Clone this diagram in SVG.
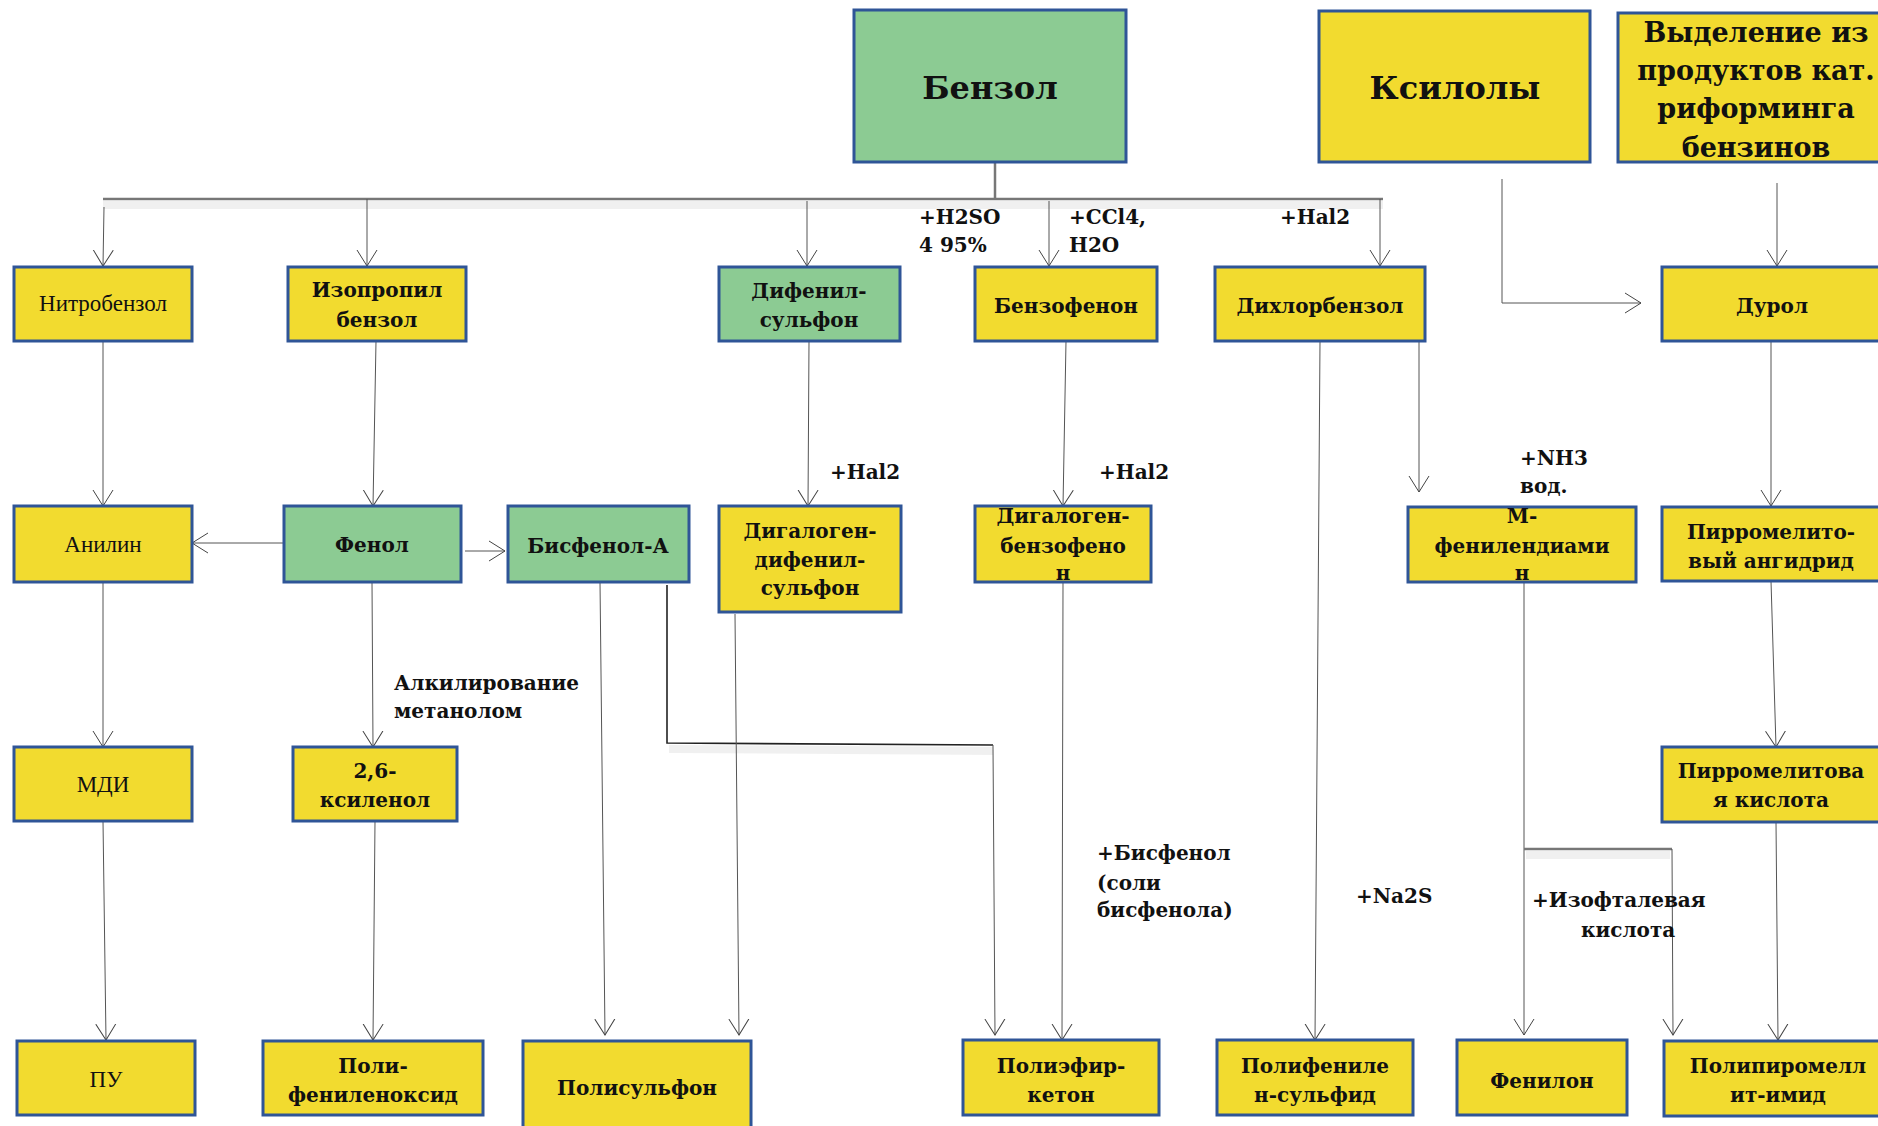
<svg xmlns="http://www.w3.org/2000/svg" width="1878" height="1126" viewBox="0 0 1878 1126">
<defs>
<style>
.y{fill:#F2DB2F;stroke:#2F5597;stroke-width:3}
.g{fill:#8CCB93;stroke:#2F5597;stroke-width:3}
.t{font-family:"DejaVu Serif","Liberation Serif",serif;font-weight:bold;font-size:20px;fill:#111;text-anchor:middle}
.r{font-family:"Liberation Serif","DejaVu Serif",serif;font-size:23px;fill:#111;text-anchor:middle}
.l{font-family:"DejaVu Serif","Liberation Serif",serif;font-weight:bold;font-size:20px;fill:#111}
.big{font-size:32px}
.c{fill:none;stroke:#555;stroke-width:1}
.bus{fill:none;stroke:#777;stroke-width:2.5}
.blk{fill:none;stroke:#222;stroke-width:1.6}
.shd{fill:none;stroke:#000;stroke-opacity:0.06;stroke-width:8}
</style>
<marker id="a" markerUnits="userSpaceOnUse" viewBox="0 0 17 22" markerWidth="17" markerHeight="22" refX="16" refY="11" orient="auto">
<path d="M0,1 L16,11 L0,21" fill="none" stroke="#444" stroke-width="1"/>
</marker>
</defs>

<g id="connectors">
<line class="shd" x1="103" y1="205" x2="1383" y2="205"/>
<line class="bus" x1="995" y1="162" x2="995" y2="199"/>
<line class="bus" x1="103" y1="199" x2="1383" y2="199"/>
<line class="c" x1="104" y1="207" x2="103" y2="266" marker-end="url(#a)"/>
<line class="c" x1="367" y1="199" x2="367" y2="266" marker-end="url(#a)"/>
<line class="c" x1="807" y1="201" x2="807" y2="266" marker-end="url(#a)"/>
<line class="c" x1="1049" y1="201" x2="1049" y2="266" marker-end="url(#a)"/>
<line class="c" x1="1380" y1="199" x2="1380" y2="266" marker-end="url(#a)"/>
<polyline class="c" points="1502,179 1502,303 1641,303" stroke-width="1.5" marker-end="url(#a)"/>
<line class="c" x1="1777" y1="183" x2="1777" y2="266" marker-end="url(#a)"/>
<line class="c" x1="103" y1="341" x2="103" y2="506" marker-end="url(#a)"/>
<line class="c" x1="376" y1="341" x2="373" y2="506" marker-end="url(#a)"/>
<line class="c" x1="809" y1="341" x2="808" y2="506" marker-end="url(#a)"/>
<line class="c" x1="1066" y1="341" x2="1063" y2="506" marker-end="url(#a)"/>
<line class="c" x1="1320" y1="341" x2="1315" y2="1040" marker-end="url(#a)"/>
<line class="c" x1="1419" y1="341" x2="1419" y2="492" marker-end="url(#a)"/>
<line class="c" x1="1771" y1="341" x2="1771" y2="506" marker-end="url(#a)"/>
<line class="c" x1="284" y1="543" x2="192" y2="543" stroke-width="1.5" marker-end="url(#a)"/>
<line class="c" x1="465" y1="551" x2="505" y2="551" stroke-width="1.5" marker-end="url(#a)"/>
<line class="c" x1="103" y1="582" x2="103" y2="747" marker-end="url(#a)"/>
<line class="c" x1="372" y1="582" x2="373" y2="747" marker-end="url(#a)"/>
<line class="c" x1="600" y1="582" x2="605" y2="1035" marker-end="url(#a)"/>
<line class="shd" x1="669" y1="749" x2="993" y2="751"/>
<polyline class="blk" points="667,585 667,743 993,745"/>
<line class="c" x1="993" y1="745" x2="995" y2="1035" marker-end="url(#a)"/>
<line class="c" x1="735" y1="614" x2="739" y2="1035" marker-end="url(#a)"/>
<line class="c" x1="1771" y1="581" x2="1776" y2="747" marker-end="url(#a)"/>
<line class="c" x1="1524" y1="582" x2="1524" y2="1035" marker-end="url(#a)"/>
<line class="shd" x1="1526" y1="855" x2="1670" y2="855"/>
<line class="bus" x1="1524" y1="849" x2="1672" y2="849" stroke-width="2"/>
<line class="c" x1="1672" y1="849" x2="1673" y2="1035" stroke="#888" stroke-width="1.5" marker-end="url(#a)"/>
<line class="c" x1="103" y1="821" x2="106" y2="1040" marker-end="url(#a)"/>
<line class="c" x1="375" y1="821" x2="373" y2="1040" marker-end="url(#a)"/>
<line class="c" x1="1063" y1="582" x2="1062" y2="1040" marker-end="url(#a)"/>
<line class="c" x1="1776" y1="822" x2="1778" y2="1040" marker-end="url(#a)"/>
</g>

<g id="labels">
<text class="l" x="919" y="224">+H2SO</text>
<text class="l" x="919" y="252">4 95%</text>
<text class="l" x="1069" y="224">+CCl4,</text>
<text class="l" x="1069" y="252">H2O</text>
<text class="l" x="1280" y="224">+Hal2</text>
<text class="l" x="830" y="479">+Hal2</text>
<text class="l" x="1099" y="479">+Hal2</text>
<text class="l" x="1520" y="465">+NH3</text>
<text class="l" x="1520" y="493">вод.</text>
<text class="l" x="394" y="690">Алкилирование</text>
<text class="l" x="394" y="718">метанолом</text>
<text class="l" x="1097" y="860">+Бисфенол</text>
<text class="l" x="1097" y="890">(соли</text>
<text class="l" x="1097" y="917">бисфенола)</text>
<text class="l" x="1356" y="903">+Na2S</text>
<text class="l" x="1532" y="907">+Изофталевая</text>
<text class="l" x="1581" y="937">кислота</text>
</g>

<g id="benzol"><rect class="g" x="854" y="10" width="272" height="152"/><text class="t big" x="990" y="99">Бензол</text></g>
<g id="ksiloly"><rect class="y" x="1319" y="11" width="271" height="151"/><text class="t big" x="1455" y="99">Ксилолы</text></g>
<g id="vydelenie"><rect class="y" x="1618" y="13" width="276" height="149"/>
<text class="t" style="font-size:27px" x="1756" y="42">Выделение из</text>
<text class="t" style="font-size:27px" x="1756" y="80">продуктов кат.</text>
<text class="t" style="font-size:27px" x="1756" y="118">риформинга</text>
<text class="t" style="font-size:27px" x="1756" y="157">бензинов</text></g>

<g id="nitrobenzol"><rect class="y" x="14" y="267" width="178" height="74"/><text class="r" x="103" y="311">Нитробензол</text></g>
<g id="izopropilbenzol"><rect class="y" x="288" y="267" width="178" height="74"/><text class="t" x="377" y="297">Изопропил</text><text class="t" x="377" y="327">бензол</text></g>
<g id="difenilsulfon"><rect class="g" x="719" y="267" width="181" height="74"/><text class="t" x="809" y="298">Дифенил-</text><text class="t" x="809" y="327">сульфон</text></g>
<g id="benzofenon"><rect class="y" x="975" y="267" width="182" height="74"/><text class="t" x="1066" y="313">Бензофенон</text></g>
<g id="dihlorbenzol"><rect class="y" x="1215" y="267" width="210" height="74"/><text class="t" x="1320" y="313">Дихлорбензол</text></g>
<g id="durol"><rect class="y" x="1662" y="267" width="230" height="74"/><text class="t" x="1772" y="313">Дурол</text></g>

<g id="anilin"><rect class="y" x="14" y="506" width="178" height="76"/><text class="r" x="103" y="552">Анилин</text></g>
<g id="fenol"><rect class="g" x="284" y="506" width="177" height="76"/><text class="t" x="372" y="552">Фенол</text></g>
<g id="bisfenol"><rect class="g" x="508" y="506" width="181" height="76"/><text class="t" x="598" y="553">Бисфенол-А</text></g>
<g id="digalogendifenilsulfon"><rect class="y" x="719" y="506" width="182" height="106"/><text class="t" x="810" y="538">Дигалоген-</text><text class="t" x="810" y="567">дифенил-</text><text class="t" x="810" y="595">сульфон</text></g>
<g id="digalogenbenzofenon"><rect class="y" x="975" y="506" width="176" height="76"/><text class="t" x="1063" y="523">Дигалоген-</text><text class="t" x="1063" y="553">бензофено</text><text class="t" x="1063" y="580">н</text></g>
<g id="mfenilendiamin"><rect class="y" x="1408" y="507" width="228" height="75"/><text class="t" x="1522" y="523">М-</text><text class="t" x="1522" y="553">фенилендиами</text><text class="t" x="1522" y="580">н</text></g>
<g id="pirromelitangidrid"><rect class="y" x="1662" y="507" width="230" height="74"/><text class="t" x="1771" y="539">Пирромелито-</text><text class="t" x="1771" y="568">вый ангидрид</text></g>

<g id="mdi"><rect class="y" x="14" y="747" width="178" height="74"/><text class="r" x="103" y="792">МДИ</text></g>
<g id="ksilenol"><rect class="y" x="293" y="747" width="164" height="74"/><text class="t" x="375" y="778">2,6-</text><text class="t" x="375" y="807">ксиленол</text></g>
<g id="pirromelitkislota"><rect class="y" x="1662" y="747" width="230" height="75"/><text class="t" x="1771" y="778">Пирромелитова</text><text class="t" x="1771" y="807">я кислота</text></g>

<g id="pu"><rect class="y" x="17" y="1041" width="178" height="74"/><text class="r" x="106" y="1087">ПУ</text></g>
<g id="polifenilenoksid"><rect class="y" x="263" y="1041" width="220" height="74"/><text class="t" x="373" y="1073">Поли-</text><text class="t" x="373" y="1102">фениленоксид</text></g>
<g id="polisulfon"><rect class="y" x="523" y="1041" width="228" height="100"/><text class="t" x="637" y="1095">Полисульфон</text></g>
<g id="poliefirketon"><rect class="y" x="963" y="1040" width="196" height="75"/><text class="t" x="1061" y="1073">Полиэфир-</text><text class="t" x="1061" y="1102">кетон</text></g>
<g id="polifenilensulfid"><rect class="y" x="1217" y="1040" width="196" height="75"/><text class="t" x="1315" y="1073">Полифениле</text><text class="t" x="1315" y="1102">н-сульфид</text></g>
<g id="fenilon"><rect class="y" x="1457" y="1040" width="170" height="75"/><text class="t" x="1542" y="1088">Фенилон</text></g>
<g id="polipiromellitimid"><rect class="y" x="1664" y="1041" width="228" height="75"/><text class="t" x="1778" y="1073">Полипиромелл</text><text class="t" x="1778" y="1102">ит-имид</text></g>
</svg>
